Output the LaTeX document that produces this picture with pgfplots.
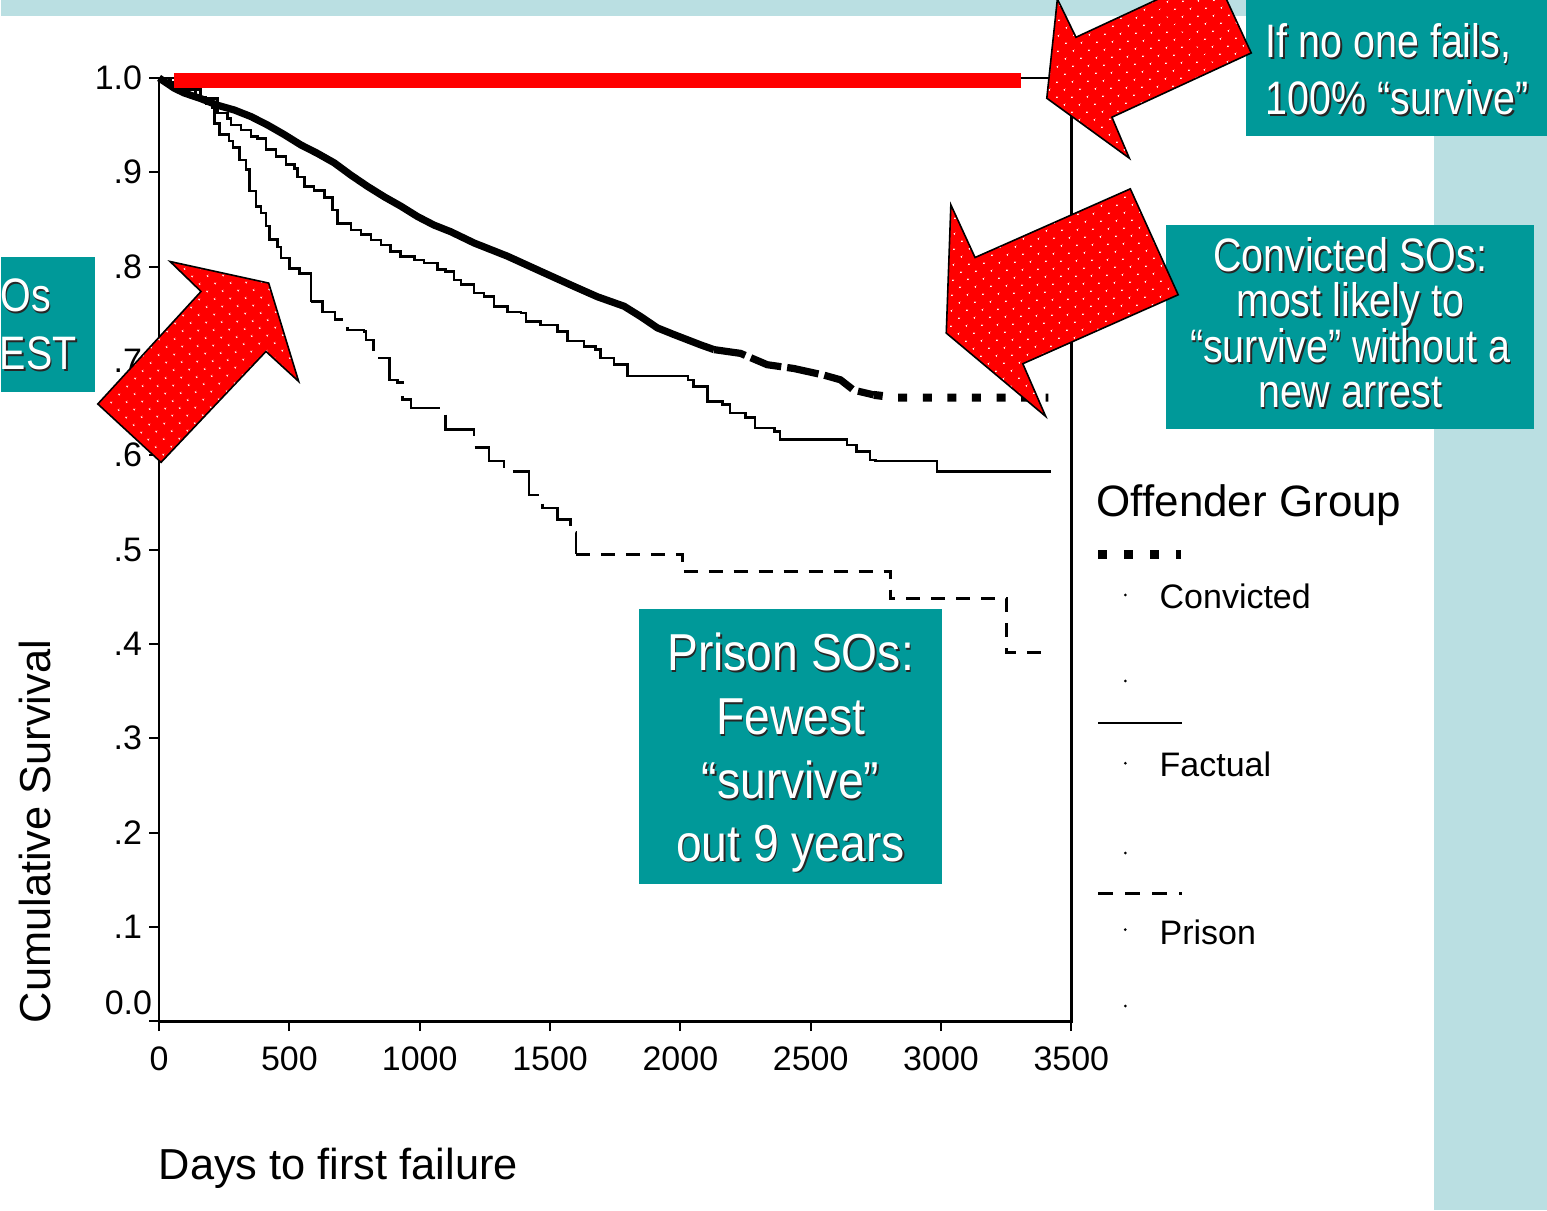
\documentclass[border=0pt]{standalone}
\usepackage{fontspec}
\setmainfont{Liberation Sans}
\newfontfamily\narrowA[FakeStretch=0.84]{Liberation Sans}
\newfontfamily\narrowB[FakeStretch=0.89]{Liberation Sans}
\usepackage{pgfplots}
\pgfplotsset{compat=1.18}
\usetikzlibrary{patterns.meta}
\definecolor{boxteal}{RGB}{0,153,153}
\definecolor{lightteal}{RGB}{186,223,226}
\newcommand\sh[4]{%
  \node[anchor=#3,inner sep=0pt,text=black!85] at (#1+1.6,#2+1.6) {#4};%
  \node[anchor=#3,inner sep=0pt,text=white] at (#1,#2) {#4};}
\tikzset{redarrow/.style={fill=red,
   postaction={pattern={Dots[angle=45,distance=5.4pt,radius=0.5pt]}, pattern color=white},
   postaction={draw=black, line width=0.8pt, line join=miter}}}
\begin{document}
\begin{tikzpicture}
\begin{scope}[x=0.5pt,y=-0.5pt]
\path[use as bounding box] (0,0) rectangle (1547,1211);
\fill[white] (0,0) rectangle (1547,1211);
\fill[lightteal] (0,0) rectangle (1547,16.5);
\fill[lightteal] (1434,0) rectangle (1547,1211);
\end{scope}

\begin{axis}[
  at={(79pt,-511pt)}, anchor=south west,
  scale only axis, width=456.5pt, height=472pt,
  xmin=0, xmax=3500, ymin=0, ymax=1,
  clip=false,
  axis line style={line width=1.4pt},
  xtick={0,500,1000,1500,2000,2500,3000,3500},
  xticklabels={0,500,1000,1500,2000,2500,3000,3500},
  ytick={0,0.1,0.2,0.3,0.4,0.5,0.6,0.7,0.8,0.9,1.0},
  yticklabels={,.1,.2,.3,.4,.5,.6,.7,.8,.9,1.0},
  extra y ticks={0.02}, extra y tick labels={0.0},
  extra y tick style={major tick length=0pt},
  tick align=outside, major tick length=5pt,
  xtick pos=left, ytick pos=left,
  tick style={line width=1pt, black},
  ticklabel style={font=\fontsize{17pt}{20pt}\selectfont},
  xticklabel style={yshift=-4pt},
  /pgf/number format/assume math mode=true,
  xlabel={Days to first failure},
  xlabel style={at={(axis description cs:-0.008,-0.1674)}, anchor=base west, font=\fontsize{21.7pt}{26pt}\selectfont},
  ylabel={Cumulative Survival},
  ylabel style={at={(axis description cs:-0.1194,-0.0095)}, anchor=base west, font=\fontsize{21.7pt}{26pt}\selectfont},
]
% Prison
\addplot[black, line width=1.3pt, const plot] coordinates {
(0,1.0) (40,0.995) (90,0.988) (140,0.980) (180,0.973) (206,0.968) (212,0.952)
(231,0.940) (269,0.933) (283,0.926) (308,0.913) (334,0.903) (346,0.880)
(372,0.864) (391,0.857) (410,0.843) (423,0.829) (455,0.821) (468,0.809)
(500,0.798) (538,0.793) (583,0.763)};
\addplot[black, line width=1.3pt, const plot, dash pattern=on 25pt off 6pt] coordinates {
(583,0.763) (628,0.752) (675,0.744) (723,0.733) (787,0.731) (794,0.722)
(823,0.703) (883,0.680) (915,0.677) (934,0.659) (966,0.650) (1100,0.627)
(1209,0.608) (1266,0.594) (1324,0.583) (1420,0.558) (1471,0.544) (1528,0.532)
(1579,0.518) (1599,0.495)};
\addplot[black, line width=1.3pt, const plot, dash pattern=on 7pt off 5.5pt] coordinates {
(1599,0.495) (2008,0.477) (2805,0.448) (3251,0.391) (3394,0.391)};
% Factual
\addplot[black, line width=1.3pt, const plot] coordinates {
(0,1.0) (45,0.995) (100,0.988) (160,0.978) (225,0.963) (263,0.957) (276,0.950)
(314,0.945) (353,0.938) (378,0.936) (410,0.924) (449,0.917) (487,0.908)
(519,0.904) (532,0.895) (557,0.885) (595,0.881) (634,0.873) (666,0.860)
(685,0.846) (736,0.839) (774,0.834) (813,0.828) (851,0.823) (889,0.816)
(927,0.811) (979,0.807) (1017,0.804) (1068,0.797) (1100,0.795) (1132,0.786)
(1158,0.781) (1209,0.772) (1247,0.768) (1285,0.758) (1337,0.752) (1388,0.751)
(1407,0.742) (1464,0.738) (1528,0.731) (1567,0.721) (1630,0.715) (1675,0.712)
(1694,0.703) (1745,0.696) (1797,0.684) (2030,0.680) (2051,0.673) (2103,0.657)
(2162,0.654) (2191,0.645) (2250,0.640) (2287,0.629) (2360,0.625) (2382,0.617)
(2639,0.611) (2676,0.604) (2727,0.595) (2749,0.594) (2984,0.583) (3420,0.583)};
% Convicted
\addplot[black, line width=3.6pt, line join=round] coordinates {
(0,1.0) (59,0.989) (97,0.984) (161,0.978) (225,0.971) (289,0.966) (353,0.959)
(417,0.950) (480,0.940) (544,0.929) (608,0.920) (672,0.910) (736,0.897)
(800,0.885) (864,0.874) (928,0.864) (992,0.853) (1055,0.844) (1119,0.837)
(1209,0.825) (1337,0.811) (1464,0.795) (1592,0.779) (1682,0.768) (1784,0.758)
(1848,0.747) (1912,0.735) (1975,0.728) (2078,0.717) (2129,0.712)};
\addplot[black, line width=3.6pt, dash pattern=on 16pt off 3pt] coordinates {
(2129,0.712) (2231,0.708) (2333,0.696) (2435,0.692) (2550,0.685) (2614,0.680)
(2665,0.669) (2742,0.664)};
\addplot[black, line width=4pt, dash pattern=on 4.5pt off 7.8pt] coordinates {
(2742,0.664) (2832,0.661) (3412,0.661)};
% 100% survival reference bar
\addplot[red, line width=7.5pt] coordinates {(57,0.9974) (3308,0.9974)};
\end{axis}

\begin{scope}[x=0.5pt,y=-0.5pt]
% legend
\node[anchor=base west,inner sep=0pt,font=\fontsize{22pt}{26pt}\selectfont] at (1096,517) {Offender Group};
\draw[line width=4.5pt, dash pattern=on 4.25pt off 8.75pt] (1098,554.5) -- (1181,554.5);
\draw[line width=1.4pt] (1098,723.6) -- (1182,723.6);
\draw[line width=1.4pt, dash pattern=on 7.5pt off 6pt] (1098,894) -- (1182,894);
\node[anchor=base west,inner sep=0pt,font=\fontsize{17pt}{20pt}\selectfont] at (1159,609) {Convicted};
\node[anchor=base west,inner sep=0pt,font=\fontsize{17pt}{20pt}\selectfont] at (1159,777) {Factual};
\node[anchor=base west,inner sep=0pt,font=\fontsize{17pt}{20pt}\selectfont] at (1159,945.6) {Prison};
\foreach \yy in {595.4,681.5,763.8,853.7,930.3,1006.8} {\fill (1125,\yy) circle[radius=0.75pt];}
% boxes
\fill[boxteal] (1246,0) rectangle (1547,136);
\fill[boxteal] (1166,225) rectangle (1534,429);
\fill[boxteal] (638,609) rectangle (942,885);
\fill[boxteal] (0,257) rectangle (94,392);
% box texts
\sh{1265}{58}{base west}{\narrowA\fontsize{23.5pt}{28pt}\selectfont If no one fails,}
\sh{1265}{115}{base west}{\narrowA\fontsize{23.5pt}{28pt}\selectfont 100\% “survive”}
\sh{1350}{272}{base}{\narrowA\fontsize{23.5pt}{28pt}\selectfont Convicted SOs:}
\sh{1350}{317}{base}{\narrowA\fontsize{23.5pt}{28pt}\selectfont most likely to}
\sh{1350}{363}{base}{\narrowA\fontsize{23.5pt}{28pt}\selectfont “survive” without a}
\sh{1350}{408}{base}{\narrowA\fontsize{23.5pt}{28pt}\selectfont new arrest}
\sh{790}{671}{base}{\narrowB\fontsize{26pt}{30pt}\selectfont Prison SOs:}
\sh{790}{735}{base}{\narrowB\fontsize{26pt}{30pt}\selectfont Fewest}
\sh{790}{799}{base}{\narrowB\fontsize{26pt}{30pt}\selectfont “survive”}
\sh{790}{862}{base}{\narrowB\fontsize{26pt}{30pt}\selectfont out 9 years}
\sh{50}{312}{base east}{\narrowA\fontsize{23.5pt}{28pt}\selectfont Os}
\sh{76}{370}{base east}{\narrowA\fontsize{23.5pt}{28pt}\selectfont EST}
% arrows
\begin{scope}
\clip (0,0) rectangle (1547,1211);
\path[redarrow] (96.7,404.3) -- (160,462.7) -- (265,351.7) -- (297.7,381.7) -- (267.7,283.3) -- (169,261.7) -- (200,291.7) -- cycle;
\path[redarrow] (1046.4,98.3) -- (1057,-1) -- (1075.6,37.3) -- (1214,-27) -- (1251,53) -- (1111.6,117.3) -- (1129,158.3) -- cycle;
\path[redarrow] (950.4,205) -- (974.6,257.7) -- (1130,189) -- (1177.9,295) -- (1022.4,364) -- (1045.3,416.7) -- (945.8,333.3) -- cycle;
\end{scope}
\end{scope}
\end{tikzpicture}
\end{document}
